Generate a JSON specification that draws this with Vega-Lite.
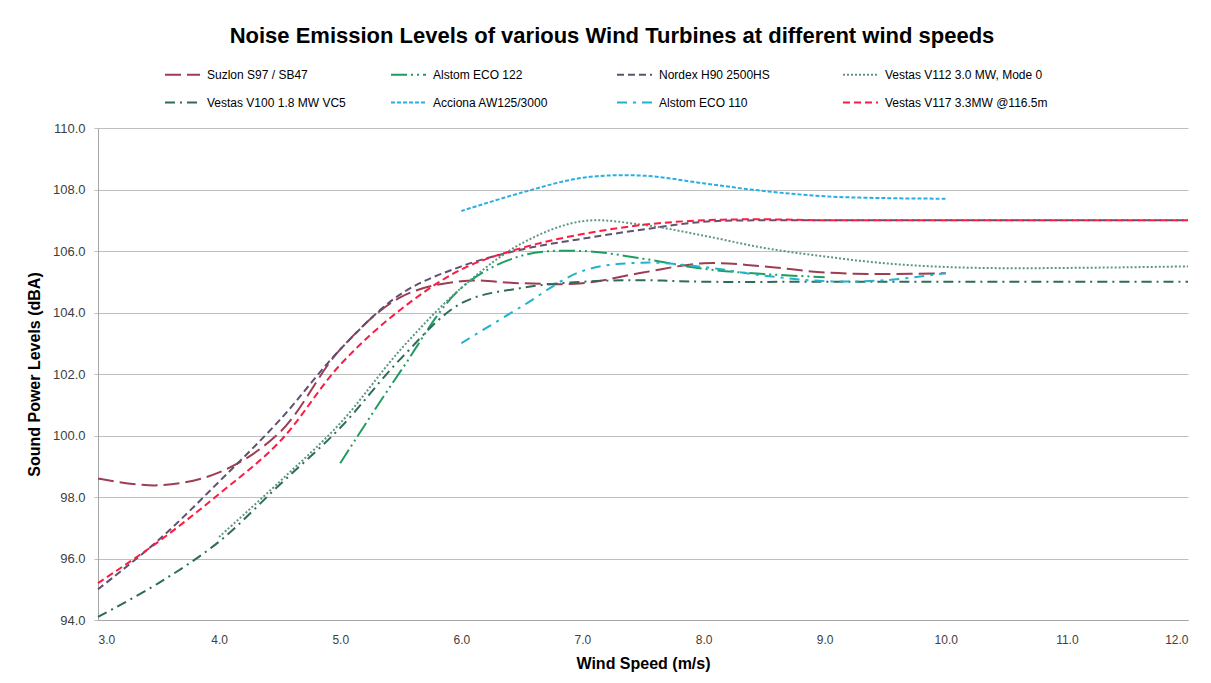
{
  "$schema": "https://vega.github.io/schema/vega-lite/v6.json",
  "width": 1090,
  "height": 492,
  "autosize": {"type": "none"},
  "padding": {"left": 98, "top": 128, "right": 23, "bottom": 63},
  "background": "white",
  "title": {
    "text": "Noise Emission Levels of various Wind Turbines at different wind speeds",
    "font": "Liberation Sans",
    "fontSize": 22,
    "fontWeight": "bold",
    "color": "#000000",
    "anchor": "middle",
    "dx": -31,
    "offset": 8
  },
  "data": {
    "values": [
      {"series": "Suzlon S97 / SB47", "speed": 3.0, "level": 98.6},
      {"series": "Suzlon S97 / SB47", "speed": 3.5, "level": 98.38},
      {"series": "Suzlon S97 / SB47", "speed": 4.0, "level": 98.8},
      {"series": "Suzlon S97 / SB47", "speed": 4.5, "level": 100.1},
      {"series": "Suzlon S97 / SB47", "speed": 5.0, "level": 102.8},
      {"series": "Suzlon S97 / SB47", "speed": 5.5, "level": 104.5},
      {"series": "Suzlon S97 / SB47", "speed": 6.0, "level": 105.02},
      {"series": "Suzlon S97 / SB47", "speed": 6.5, "level": 104.95},
      {"series": "Suzlon S97 / SB47", "speed": 7.0, "level": 104.95},
      {"series": "Suzlon S97 / SB47", "speed": 7.5, "level": 105.3},
      {"series": "Suzlon S97 / SB47", "speed": 8.0, "level": 105.6},
      {"series": "Suzlon S97 / SB47", "speed": 8.5, "level": 105.5},
      {"series": "Suzlon S97 / SB47", "speed": 9.0, "level": 105.3},
      {"series": "Suzlon S97 / SB47", "speed": 9.5, "level": 105.25},
      {"series": "Suzlon S97 / SB47", "speed": 10.0, "level": 105.28},

      {"series": "Alstom ECO 122", "speed": 5.0, "level": 99.1},
      {"series": "Alstom ECO 122", "speed": 5.5, "level": 102.1},
      {"series": "Alstom ECO 122", "speed": 6.0, "level": 104.8},
      {"series": "Alstom ECO 122", "speed": 6.5, "level": 105.85},
      {"series": "Alstom ECO 122", "speed": 7.0, "level": 106.0},
      {"series": "Alstom ECO 122", "speed": 7.5, "level": 105.75},
      {"series": "Alstom ECO 122", "speed": 8.0, "level": 105.42},
      {"series": "Alstom ECO 122", "speed": 8.5, "level": 105.25},
      {"series": "Alstom ECO 122", "speed": 9.0, "level": 105.15},

      {"series": "Nordex H90 2500HS", "speed": 3.0, "level": 95.0},
      {"series": "Nordex H90 2500HS", "speed": 3.5, "level": 96.6},
      {"series": "Nordex H90 2500HS", "speed": 4.0, "level": 98.5},
      {"series": "Nordex H90 2500HS", "speed": 4.5, "level": 100.5},
      {"series": "Nordex H90 2500HS", "speed": 5.0, "level": 102.8},
      {"series": "Nordex H90 2500HS", "speed": 5.5, "level": 104.6},
      {"series": "Nordex H90 2500HS", "speed": 6.0, "level": 105.5},
      {"series": "Nordex H90 2500HS", "speed": 6.5, "level": 106.05},
      {"series": "Nordex H90 2500HS", "speed": 7.0, "level": 106.4},
      {"series": "Nordex H90 2500HS", "speed": 7.5, "level": 106.7},
      {"series": "Nordex H90 2500HS", "speed": 8.0, "level": 106.95},
      {"series": "Nordex H90 2500HS", "speed": 8.5, "level": 107.0},
      {"series": "Nordex H90 2500HS", "speed": 9.0, "level": 107.0},
      {"series": "Nordex H90 2500HS", "speed": 10.0, "level": 107.0},
      {"series": "Nordex H90 2500HS", "speed": 11.0, "level": 107.0},
      {"series": "Nordex H90 2500HS", "speed": 12.0, "level": 107.0},

      {"series": "Vestas V112 3.0 MW, Mode 0", "speed": 4.0, "level": 96.7},
      {"series": "Vestas V112 3.0 MW, Mode 0", "speed": 4.5, "level": 98.5},
      {"series": "Vestas V112 3.0 MW, Mode 0", "speed": 5.0, "level": 100.4},
      {"series": "Vestas V112 3.0 MW, Mode 0", "speed": 5.5, "level": 102.8},
      {"series": "Vestas V112 3.0 MW, Mode 0", "speed": 6.0, "level": 104.8},
      {"series": "Vestas V112 3.0 MW, Mode 0", "speed": 6.5, "level": 106.25},
      {"series": "Vestas V112 3.0 MW, Mode 0", "speed": 7.0, "level": 106.97},
      {"series": "Vestas V112 3.0 MW, Mode 0", "speed": 7.5, "level": 106.85},
      {"series": "Vestas V112 3.0 MW, Mode 0", "speed": 8.0, "level": 106.5},
      {"series": "Vestas V112 3.0 MW, Mode 0", "speed": 8.5, "level": 106.1},
      {"series": "Vestas V112 3.0 MW, Mode 0", "speed": 9.0, "level": 105.82},
      {"series": "Vestas V112 3.0 MW, Mode 0", "speed": 9.5, "level": 105.6},
      {"series": "Vestas V112 3.0 MW, Mode 0", "speed": 10.0, "level": 105.48},
      {"series": "Vestas V112 3.0 MW, Mode 0", "speed": 10.5, "level": 105.44},
      {"series": "Vestas V112 3.0 MW, Mode 0", "speed": 11.0, "level": 105.45},
      {"series": "Vestas V112 3.0 MW, Mode 0", "speed": 11.5, "level": 105.47},
      {"series": "Vestas V112 3.0 MW, Mode 0", "speed": 12.0, "level": 105.5},

      {"series": "Vestas V100 1.8 MW VC5", "speed": 3.0, "level": 94.1},
      {"series": "Vestas V100 1.8 MW VC5", "speed": 3.5, "level": 95.2},
      {"series": "Vestas V100 1.8 MW VC5", "speed": 4.0, "level": 96.55},
      {"series": "Vestas V100 1.8 MW VC5", "speed": 4.5, "level": 98.4},
      {"series": "Vestas V100 1.8 MW VC5", "speed": 5.0, "level": 100.25},
      {"series": "Vestas V100 1.8 MW VC5", "speed": 5.5, "level": 102.5},
      {"series": "Vestas V100 1.8 MW VC5", "speed": 6.0, "level": 104.3},
      {"series": "Vestas V100 1.8 MW VC5", "speed": 6.5, "level": 104.8},
      {"series": "Vestas V100 1.8 MW VC5", "speed": 7.0, "level": 105.0},
      {"series": "Vestas V100 1.8 MW VC5", "speed": 7.5, "level": 105.05},
      {"series": "Vestas V100 1.8 MW VC5", "speed": 8.0, "level": 105.0},
      {"series": "Vestas V100 1.8 MW VC5", "speed": 9.0, "level": 105.0},
      {"series": "Vestas V100 1.8 MW VC5", "speed": 10.0, "level": 105.0},
      {"series": "Vestas V100 1.8 MW VC5", "speed": 11.0, "level": 105.0},
      {"series": "Vestas V100 1.8 MW VC5", "speed": 12.0, "level": 105.0},

      {"series": "Acciona AW125/3000", "speed": 6.0, "level": 107.3},
      {"series": "Acciona AW125/3000", "speed": 6.5, "level": 107.9},
      {"series": "Acciona AW125/3000", "speed": 7.0, "level": 108.38},
      {"series": "Acciona AW125/3000", "speed": 7.5, "level": 108.45},
      {"series": "Acciona AW125/3000", "speed": 8.0, "level": 108.2},
      {"series": "Acciona AW125/3000", "speed": 8.5, "level": 107.95},
      {"series": "Acciona AW125/3000", "speed": 9.0, "level": 107.78},
      {"series": "Acciona AW125/3000", "speed": 9.5, "level": 107.72},
      {"series": "Acciona AW125/3000", "speed": 10.0, "level": 107.7},

      {"series": "Alstom ECO 110", "speed": 6.0, "level": 103.0},
      {"series": "Alstom ECO 110", "speed": 6.5, "level": 104.2},
      {"series": "Alstom ECO 110", "speed": 7.0, "level": 105.35},
      {"series": "Alstom ECO 110", "speed": 7.5, "level": 105.62},
      {"series": "Alstom ECO 110", "speed": 8.0, "level": 105.48},
      {"series": "Alstom ECO 110", "speed": 8.5, "level": 105.2},
      {"series": "Alstom ECO 110", "speed": 9.0, "level": 105.02},
      {"series": "Alstom ECO 110", "speed": 9.5, "level": 105.05},
      {"series": "Alstom ECO 110", "speed": 10.0, "level": 105.28},

      {"series": "Vestas V117 3.3MW @116.5m", "speed": 3.0, "level": 95.2},
      {"series": "Vestas V117 3.3MW @116.5m", "speed": 3.5, "level": 96.55},
      {"series": "Vestas V117 3.3MW @116.5m", "speed": 4.0, "level": 98.1},
      {"series": "Vestas V117 3.3MW @116.5m", "speed": 4.5, "level": 99.8},
      {"series": "Vestas V117 3.3MW @116.5m", "speed": 5.0, "level": 102.3},
      {"series": "Vestas V117 3.3MW @116.5m", "speed": 5.5, "level": 104.1},
      {"series": "Vestas V117 3.3MW @116.5m", "speed": 6.0, "level": 105.4},
      {"series": "Vestas V117 3.3MW @116.5m", "speed": 6.5, "level": 106.1},
      {"series": "Vestas V117 3.3MW @116.5m", "speed": 7.0, "level": 106.55},
      {"series": "Vestas V117 3.3MW @116.5m", "speed": 7.5, "level": 106.85},
      {"series": "Vestas V117 3.3MW @116.5m", "speed": 8.0, "level": 107.0},
      {"series": "Vestas V117 3.3MW @116.5m", "speed": 8.5, "level": 107.03},
      {"series": "Vestas V117 3.3MW @116.5m", "speed": 9.0, "level": 107.0},
      {"series": "Vestas V117 3.3MW @116.5m", "speed": 10.0, "level": 107.0},
      {"series": "Vestas V117 3.3MW @116.5m", "speed": 11.0, "level": 107.0},
      {"series": "Vestas V117 3.3MW @116.5m", "speed": 12.0, "level": 107.0}
    ]
  },
  "mark": {"type": "line", "interpolate": "catmull-rom", "strokeWidth": 2},
  "encoding": {
    "x": {
      "field": "speed",
      "type": "quantitative",
      "scale": {"domain": [3, 12], "nice": false},
      "axis": {
        "title": "Wind Speed (m/s)",
        "values": [3, 4, 5, 6, 7, 8, 9, 10, 11, 12],
        "format": ".1f",
        "grid": false,
        "ticks": false,
        "labelPadding": 14,
        "labelFontSize": 12,
        "labelFont": "Liberation Sans",
        "labelColor": "#404040",
        "titleFont": "Liberation Sans",
        "titleFontSize": 16,
        "titleFontWeight": "bold",
        "titleColor": "#000000",
        "titlePadding": 10,
        "domainColor": "#A6A6A6"
      }
    },
    "y": {
      "field": "level",
      "type": "quantitative",
      "scale": {"domain": [94, 110], "nice": false, "zero": false},
      "axis": {
        "title": "Sound Power Levels (dBA)",
        "values": [94, 96, 98, 100, 102, 104, 106, 108, 110],
        "format": ".1f",
        "grid": true,
        "gridColor": "#BFBFBF",
        "tickSize": 4,
        "tickColor": "#BFBFBF",
        "labelPadding": 9,
        "labelFontSize": 13,
        "labelFont": "Liberation Sans",
        "labelColor": "#404040",
        "titleFont": "Liberation Sans",
        "titleFontSize": 16,
        "titleFontWeight": "bold",
        "titleColor": "#000000",
        "titlePadding": 10,
        "domainColor": "#A6A6A6"
      }
    },
    "color": {
      "field": "series",
      "type": "nominal",
      "scale": {
        "domain": ["Suzlon S97 / SB47", "Alstom ECO 122", "Nordex H90 2500HS", "Vestas V112 3.0 MW, Mode 0", "Vestas V100 1.8 MW VC5", "Acciona AW125/3000", "Alstom ECO 110", "Vestas V117 3.3MW @116.5m"],
        "range": ["#9E3D52", "#1E9E5E", "#5E5270", "#5F9585", "#2E6B58", "#28AEE0", "#1FB3CF", "#FF1A40"]
      },
      "legend": {
        "title": null,
        "orient": "none",
        "legendX": 66,
        "legendY": -72,
        "columns": 4,
        "direction": "horizontal",
        "gridAlign": "all",
        "columnPadding": 17,
        "rowPadding": 3,
        "symbolType": "stroke",
        "symbolSize": 1225,
        "symbolStrokeWidth": 2,
        "labelFont": "Liberation Sans",
        "labelFontSize": 12,
        "labelColor": "#000000",
        "labelOffset": 6,
        "labelLimit": 300
      }
    },
    "strokeDash": {
      "field": "series",
      "type": "nominal",
      "scale": {
        "domain": ["Suzlon S97 / SB47", "Alstom ECO 122", "Nordex H90 2500HS", "Vestas V112 3.0 MW, Mode 0", "Vestas V100 1.8 MW VC5", "Acciona AW125/3000", "Alstom ECO 110", "Vestas V117 3.3MW @116.5m"],
        "range": [[16, 6], [16, 4, 2, 4, 2, 4], [7, 4], [2, 2], [10, 5, 2, 5], [4, 2], [10, 6, 3, 6], [7, 4]]
      },
      "legend": null
    }
  },
  "config": {
    "view": {"stroke": null}
  }
}
